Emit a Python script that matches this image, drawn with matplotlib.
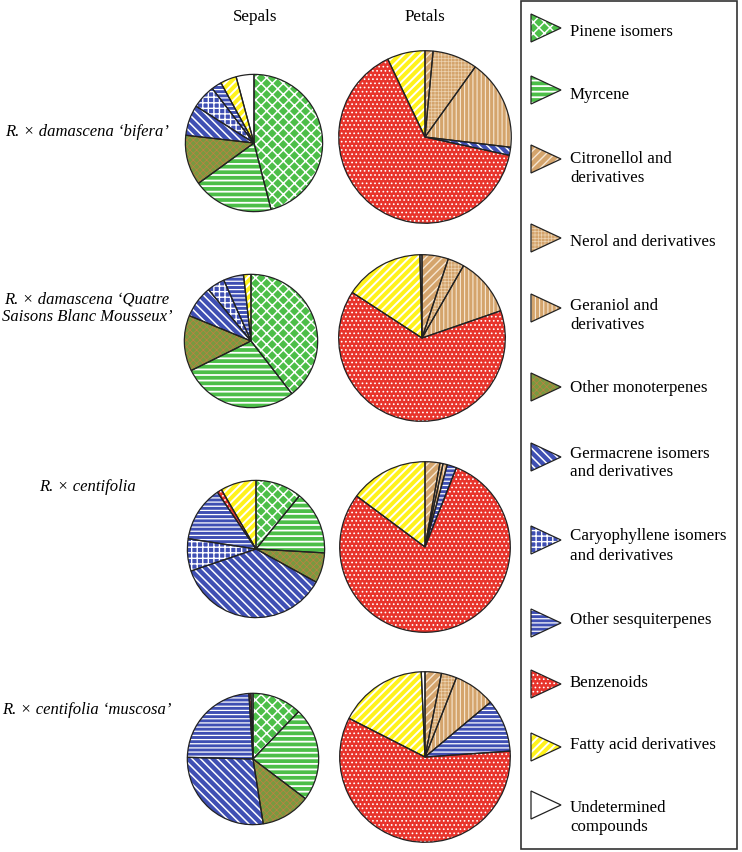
import matplotlib
matplotlib.use("Agg")
import matplotlib.pyplot as plt
from matplotlib.patches import Polygon, Rectangle

categories = ["Pinene isomers", "Myrcene", "Citronellol and\nderivatives",
              "Nerol and derivatives", "Geraniol and\nderivatives",
              "Other monoterpenes", "Germacrene isomers\nand derivatives",
              "Caryophyllene isomers\nand derivatives", "Other sesquiterpenes",
              "Benzenoids", "Fatty acid derivatives", "Undetermined\ncompounds"]

colors = ["#4cbe48", "#4cbe48", "#d4a46c", "#d4a46c", "#d4a46c", "#789a40",
          "#3f4fb3", "#3f4fb3", "#3f4fb3", "#e8342c", "#fff21c", "#ffffff"]
hatches = ["xxx", "---", "////", "+++++", "||||", "xxxxx",
           "\\\\\\\\", "+++", "----", "....", "////", None]
hatch_colors = ["white", "white", "#f6e6d2", "#ecd2b0", "#f6e6d2", "#c08040",
                "white", "white", "white", "white", "white", "white"]
hatch_lws = [1.1, 1.3, 1.0, 0.5, 0.8, 0.5, 1.1, 1.0, 0.9, 0.7, 1.4, 1.0]

rows = ["R. × damascena ‘bifera’",
        "R. × damascena ‘Quatre\nSaisons Blanc Mousseux’",
        "R. × centifolia",
        "R. × centifolia ‘muscosa’"]

sepals_bifera = [46, 19, 0, 0, 0, 11.8, 7.2, 5.6, 2.4, 0, 3.8, 4.2]
petals_bifera = [0, 0, 1.5, 8.4, 17, 0, 1.5, 0, 0, 64.5, 7.1, 0]
sepals_quatre = [39.5, 28.2, 0, 0, 0, 13.5, 7.8, 4.3, 4.9, 0, 1.8, 0]
petals_quatre = [0, 0, 5.1, 3.2, 11.4, 0, 0, 0, 0, 64.5, 15.4, 0.4]
sepals_centifolia = [10.9, 15, 0, 0, 0, 7.1, 36.8, 7.6, 13.1, 1.1, 8.4, 0]
petals_centifolia = [0, 0, 2.8, 0.6, 0.8, 0, 0, 0, 1.8, 79.2, 14.8, 0]
sepals_muscosa = [12.2, 23.1, 0, 0, 0, 12.2, 27.9, 0, 23.6, 0.5, 0, 0.5]
petals_muscosa = [0, 0, 3.1, 2.9, 7.9, 0, 0, 0, 10, 58.6, 16.8, 0.7]

sepals = [sepals_bifera, sepals_quatre, sepals_centifolia, sepals_muscosa]
petals = [petals_bifera, petals_quatre, petals_centifolia, petals_muscosa]

W, H = 742, 853
fig = plt.figure(figsize=(W / 100, H / 100), dpi=100)

serif = ["Liberation Serif", "DejaVu Serif"]

sep_geo = [(254, 144, 70), (251, 342, 68), (256, 550, 70), (253, 760, 67)]
pet_geo = [(425, 138, 88), (422, 339, 85), (425, 548, 87), (425, 758, 87)]
label_y = [132, 308, 487, 710]


def style_patch(p, i):
    if hatches[i]:
        p.set_hatch(hatches[i])
        p.set_edgecolor(hatch_colors[i])
        try:
            p.set_hatch_linewidth(hatch_lws[i])
        except AttributeError:
            pass


def draw_pie(vals, geo):
    cx, cy, r = geo
    ax = fig.add_axes([(cx - r) / W, (H - cy - r) / H, 2 * r / W, 2 * r / H])
    idx = [i for i, v in enumerate(vals) if v > 0]
    v = [vals[i] for i in idx]
    wedges, _ = ax.pie(v, startangle=90, counterclock=False,
                       colors=[colors[i] for i in idx], radius=1,
                       wedgeprops=dict(linewidth=0))
    for w, i in zip(wedges, idx):
        style_patch(w, i)
    ax.pie(v, startangle=90, counterclock=False, radius=1,
           colors=["none"] * len(v),
           wedgeprops=dict(linewidth=0.9, edgecolor="#222222", fill=False))
    ax.set_xlim(-1.02, 1.02)
    ax.set_ylim(-1.02, 1.02)
    ax.set_aspect("equal")
    ax.axis("off")


for k in range(4):
    draw_pie(sepals[k], sep_geo[k])
    draw_pie(petals[k], pet_geo[k])

ov = fig.add_axes([0, 0, 1, 1], zorder=-1)
ov.set_xlim(0, W)
ov.set_ylim(H, 0)
ov.axis("off")

ov.text(255, 17, "Sepals", ha="center", va="center", fontsize=12.3, family=serif)
ov.text(425, 17, "Petals", ha="center", va="center", fontsize=12.3, family=serif)

for k, lab in enumerate(rows):
    ov.text(87, label_y[k], lab, ha="center", va="center", fontsize=12,
            family=serif, style="italic", linespacing=1.1, ma="center")

ov.add_patch(Rectangle((521, 2), 216, 848, fill=False, edgecolor="#333333", linewidth=1.2))
tri_y = [29, 91, 160, 239, 309, 388, 458, 541, 624, 685, 748, 806]
text_y = [32, 95, 168, 242, 315, 388, 463, 546, 620, 683, 745, 818]
for i, name in enumerate(categories):
    ty = tri_y[i]
    pts = [(531, ty - 14), (531, ty + 14), (561, ty)]
    p = Polygon(pts, closed=True, facecolor=colors[i], linewidth=0)
    style_patch(p, i)
    ov.add_patch(p)
    ov.add_patch(Polygon(pts, closed=True, fill=False, edgecolor="#222222", linewidth=0.9))
    ov.text(570, text_y[i], name, ha="left", va="center", fontsize=12.2,
            family=serif, linespacing=1.25)

fig.savefig("out.png", dpi=100)
